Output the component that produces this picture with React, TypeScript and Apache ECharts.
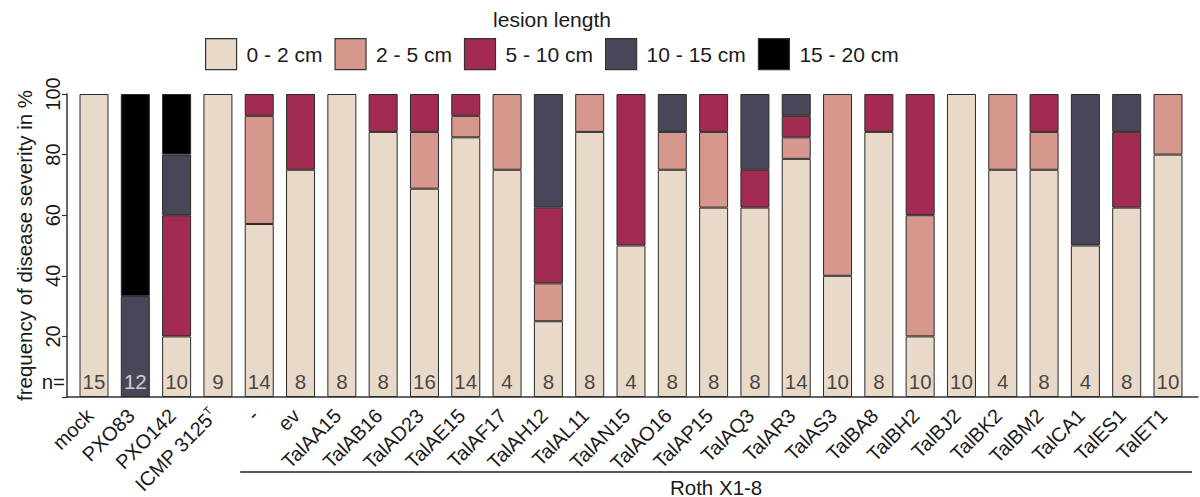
import React, { useEffect, useRef } from "react";
import * as echarts from "echarts";

const categories = [
  "mock", "PXO83", "PXO142", "ICMP 3125T", "-", "ev", "TalAA15", "TalAB16", "TalAD23",
  "TalAE15", "TalAF17", "TalAH12", "TalAL11", "TalAN15", "TalAO16", "TalAP15", "TalAQ3",
  "TalAR3", "TalAS3", "TalBA8", "TalBH2", "TalBJ2", "TalBK2", "TalBM2", "TalCA1", "TalES1", "TalET1",
];

const s0to2 = [100, 0, 20, 100, 57.1, 75, 100, 87.5, 68.75, 85.7, 75, 25, 87.5, 50, 75, 62.5, 62.5, 78.6, 40, 87.5, 20, 100, 75, 75, 50, 62.5, 80];
const s2to5 = [0, 0, 0, 0, 35.7, 0, 0, 0, 18.75, 7.1, 25, 12.5, 12.5, 0, 12.5, 25, 0, 7.1, 60, 0, 40, 0, 25, 12.5, 0, 0, 20];
const s5to10 = [0, 0, 40, 0, 7.2, 25, 0, 12.5, 12.5, 7.2, 0, 25, 0, 50, 0, 12.5, 12.5, 7.1, 0, 12.5, 40, 0, 0, 12.5, 0, 25, 0];
const s10to15 = [0, 33.3, 20, 0, 0, 0, 0, 0, 0, 0, 0, 37.5, 0, 0, 12.5, 0, 25, 7.2, 0, 0, 0, 0, 0, 0, 50, 12.5, 0];
const s15to20 = [0, 66.7, 20, 0, 0, 0, 0, 0, 0, 0, 0, 0, 0, 0, 0, 0, 0, 0, 0, 0, 0, 0, 0, 0, 0, 0, 0];
const nValues = [15, 12, 10, 9, 14, 8, 8, 8, 16, 14, 4, 8, 8, 4, 8, 8, 8, 14, 10, 8, 10, 10, 4, 8, 4, 8, 10];

const seriesNames = ["0 - 2 cm", "2 - 5 cm", "5 - 10 cm", "10 - 15 cm", "15 - 20 cm"];
const seriesColors = ["#E9D9C8", "#D6978C", "#A32B52", "#484759", "#000000"];
const yTicks = [0, 20, 40, 60, 80, 100];

const FONT = "Liberation Sans, Arial, sans-serif";

export default function App() {
  const ref = useRef<HTMLDivElement>(null);

  useEffect(() => {
    if (!ref.current) return;
    const chart = echarts.init(ref.current, undefined, { renderer: "svg" });
    const seriesData = [s0to2, s2to5, s5to10, s10to15, s15to20];

    const bars = seriesData.map((arr, i) => ({
      type: "bar",
      name: seriesNames[i],
      stack: "total",
      xAxisIndex: 0,
      yAxisIndex: 0,
      barWidth: 29,
      data: arr.map((v) => (v === 0 ? null : v)),
      itemStyle: { color: seriesColors[i], borderColor: "#2a2a2a", borderWidth: 1 },
      emphasis: { disabled: true },
    }));

    const nSeries = {
      type: "scatter",
      xAxisIndex: 0,
      yAxisIndex: 0,
      symbolSize: 1,
      itemStyle: { color: "rgba(0,0,0,0)" },
      data: nValues.map((n, i) => ({
        value: [i, 5],
        label: {
          show: true,
          position: "inside",
          formatter: String(n),
          fontSize: 20.5,
          fontFamily: FONT,
          color: s0to2[i] === 0 ? "#f2f2f2" : "#1a1a1a",
        },
      })),
      z: 10,
    };

    chart.setOption({
      animation: false,
      textStyle: { fontFamily: FONT },
      legend: {
        data: seriesNames,
        left: 205,
        top: 38,
        padding: 0,
        itemWidth: 31,
        itemHeight: 31,
        itemGap: 12,
        icon: "rect",
        itemStyle: { borderColor: "#333", borderWidth: 1.2 },
        textStyle: { fontSize: 21, color: "#1a1a1a", fontFamily: FONT, padding: [0, 0, 0, 5] },
        selectedMode: false,
      },
      grid: [
        { left: 73.35, right: 11.35, top: 94, bottom: 100 },
        { left: 67, right: 2, top: 94, bottom: 100 },
      ],
      xAxis: [
        {
          type: "category",
          gridIndex: 0,
          data: categories,
          axisLine: { show: false },
          axisTick: { show: false },
          axisLabel: {
            interval: 0,
            rotate: 45,
            margin: 11,
            padding: [0, 6, 0, 0],
            fontSize: 20,
            color: "#1a1a1a",
            fontFamily: FONT,
            formatter: (v: string) => (v === "ICMP 3125T" ? "{m|ICMP 3125}{s|T}" : "{m|" + v + "}"),
            rich: {
              m: { fontSize: 20, fontFamily: FONT, color: "#1a1a1a", lineHeight: 22 },
              s: { fontSize: 11, fontFamily: FONT, color: "#1a1a1a", verticalAlign: "top", lineHeight: 22 },
            },
          },
        },
        {
          type: "value",
          gridIndex: 1,
          min: 0,
          max: 1,
          axisLine: { show: true, lineStyle: { color: "#333", width: 1.5 } },
          axisTick: { show: false },
          axisLabel: { show: false },
          splitLine: { show: false },
        },
      ],
      yAxis: [
        {
          type: "value",
          gridIndex: 0,
          min: 0,
          max: 100,
          interval: 20,
          show: false,
          splitLine: { show: false },
        },
        {
          type: "value",
          gridIndex: 1,
          min: yTicks[0],
          max: yTicks[yTicks.length - 1],
          interval: 20,
          name: "frequency of disease severity in %",
          nameLocation: "middle",
          nameGap: 29,
          nameTextStyle: { fontSize: 20.5, color: "#1a1a1a", fontFamily: FONT },
          axisLine: { show: true, lineStyle: { color: "#333", width: 1.5 } },
          axisTick: { show: true, length: 5, lineStyle: { color: "#333", width: 1.2 } },
          axisLabel: {
            rotate: 90,
            margin: 4,
            fontSize: 20,
            color: "#1a1a1a",
            fontFamily: FONT,
            formatter: (v: number) => (v === 0 ? "" : String(v)),
          },
          splitLine: { show: false },
        },
      ],
      series: [...bars, nSeries],
    });

    const p4 = chart.convertToPixel({ gridIndex: 0 }, [4, 0]) as number[];
    const pLast = chart.convertToPixel({ gridIndex: 0 }, [categories.length - 1, 0]) as number[];
    const pN = chart.convertToPixel({ gridIndex: 0 }, [0, 5]) as number[];
    const x1 = p4[0] - 19;
    const x2 = pLast[0] + 24;
    chart.setOption({
      graphic: [
        {
          type: "text",
          x: 552,
          y: 19,
          style: { text: "lesion length", fontSize: 21, fontFamily: FONT, fill: "#1a1a1a", align: "center", verticalAlign: "middle" },
        },
        {
          type: "text",
          x: 65,
          y: pN[1],
          style: { text: "n=", fontSize: 20.5, fontFamily: FONT, fill: "#1a1a1a", align: "right", verticalAlign: "middle" },
        },
        {
          type: "line",
          shape: { x1, y1: 472, x2, y2: 472 },
          style: { stroke: "#222", lineWidth: 1.5 },
        },
        {
          type: "text",
          x: (x1 + x2) / 2,
          y: 487,
          style: { text: "Roth X1-8", fontSize: 20.5, fontFamily: FONT, fill: "#1a1a1a", align: "center", verticalAlign: "middle" },
        },
      ],
    });

    return () => chart.dispose();
  }, []);

  return <div ref={ref} style={{ position: "absolute", left: 0, top: 0, width: 1200, height: 497 }} />;
}
